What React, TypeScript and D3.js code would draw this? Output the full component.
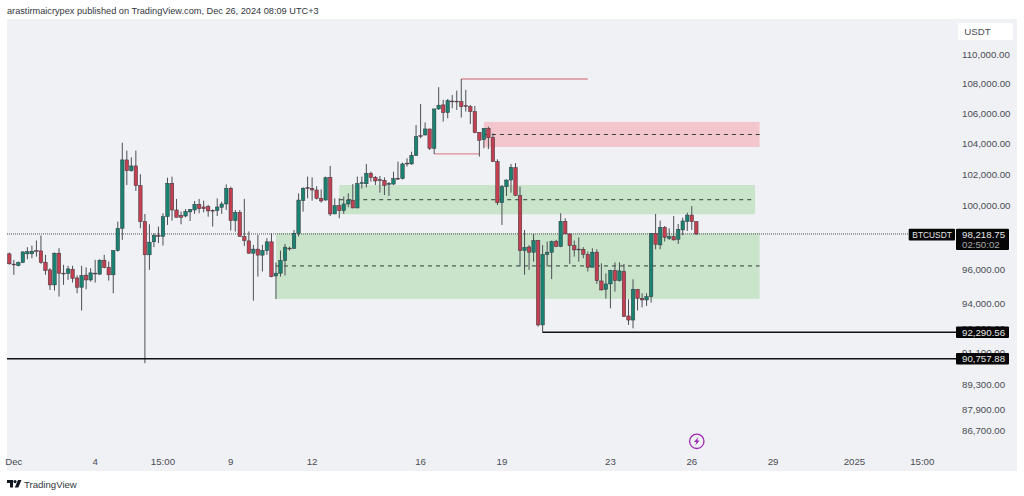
import { scaleLinear, scaleLog, format } from 'd3'

// OHLC per candle (4h)
const opens = [
  96990,96360,96280,96460,96990,96990,97190,97170,96480,96010,
  95100,97030,95810,95800,96050,95520,94960,95690,95400,95810,
  95750,96600,96170,95710,97190,98570,102930,102230,102540,101270,
  98990,96930,97730,98120,98060,99300,101420,99720,99380,99340,
  99600,99720,100080,99910,99930,99700,99680,99890,100100,101100,
  99050,99570,98060,97790,97030,97280,96910,97190,97730,95640,
  95810,96580,97340,97320,98260,100310,101140,101100,100990,100460,
  100350,101800,99470,99990,99680,100100,100330,99850,101410,101390,
  102060,101800,101650,101610,101350,101370,101740,101720,102720,102670,
  103230,104530,104570,104970,103690,106310,106580,106060,106840,106830,
  106800,106530,106460,106130,104750,104260,105010,104390,102820,100180,
  101200,101630,102430,100630,97190,97410,97090,97810,92720,96960,
  97090,97770,97440,99010,98220,97500,97280,97270,96960,96170,
  97090,95340,94840,95160,95970,95360,95910,93250,93010,94840,
  94300,94200,94400,98260,97540,98630,97950,98050,97890,98470,
  98990,99400,98990,
]
const closes = [
  96380,96340,96460,97110,97130,97150,97170,96460,95970,95100,
  97030,95810,95790,96070,95500,94960,95670,95400,95830,95790,
  96600,96150,95710,97190,98570,102930,102230,102540,101270,98990,
  96930,97710,98140,98100,99300,101420,99720,99260,99260,99620,
  99760,100080,99800,99800,99660,99680,99910,100100,101100,99050,
  99570,98060,97810,97030,97280,96910,97190,97730,95600,95810,
  96580,97400,97320,98260,100350,101100,101120,100990,100460,100290,
  101780,99470,99990,99680,100100,100350,99850,101410,101460,102060,
  101800,101570,101620,101290,101410,101720,101720,102670,102700,103230,
  104460,104510,104970,103690,106310,106560,106060,106870,106820,106810,
  106460,106500,106130,104730,104220,105010,104390,102820,100180,101200,
  101630,102450,100650,97190,97390,97090,97810,92720,96950,97090,
  97750,97440,99010,98220,97500,97230,97260,96960,96170,97090,
  95360,94800,95160,95970,95360,95950,93210,93010,94840,94300,
  94200,94400,98260,97580,98630,98010,98050,97850,98510,99030,
  99400,98990,98218.75,
]
const highs = [
  97070,96620,96520,97130,97400,97500,97810,98120,96930,96110,
  97070,97340,96320,96260,96260,95680,96260,96160,96110,96620,
  96660,96930,96520,97230,98990,104060,103540,103100,103540,102000,
  99470,98820,98260,98680,99510,101780,101850,100420,99620,99780,
  99760,100290,100420,100310,100040,99760,100460,100250,101350,101200,
  99720,99720,100420,98370,97540,98160,97540,97960,98270,96460,
  97190,97600,97440,98470,100770,101160,101850,101800,101230,101030,
  101850,102540,100460,100460,100570,100780,101370,101850,101850,102670,
  102170,101890,101890,101800,101500,102170,102820,102760,103040,103470,
  105230,106640,105410,104970,106310,107780,106920,106980,107250,107550,
  108340,107600,106580,106510,104750,105010,105120,104680,102970,101310,
  101670,102670,102720,101210,98470,97530,98220,97850,97530,97750,
  97810,97850,99510,99200,98260,97810,98010,97400,97130,97330,
  97270,96410,95800,96010,96470,96470,96370,94240,95440,94840,
  94600,94600,98260,99470,99050,98710,98570,99340,98840,99240,
  99550,99960,98990,
]
const lows = [
  96320,95710,96220,96420,96660,96720,96820,96380,95710,94800,
  94760,94400,95100,95400,95240,94600,93570,94840,95300,95240,
  95710,96110,95360,94600,97130,97850,101310,102170,100930,98570,
  90500,96010,97400,97650,97500,98780,99050,99260,98820,99260,
  99030,99470,99510,99570,99300,98680,99340,99470,99720,98430,
  98370,98060,97480,96990,94160,95600,95910,96930,95560,94260,
  95600,95670,97190,97300,98060,99620,100460,100310,100390,100180,
  100310,99340,99470,99200,99470,99890,99830,99830,101090,101160,
  101520,101310,100820,100670,100610,101310,101630,101670,102500,102610,
  103190,104350,104530,103580,103320,106240,105460,105680,106350,106240,
  105730,106130,105300,104680,103150,103690,103640,102820,100030,98780,
  100610,100820,100610,96210,95710,96010,96510,92620,92270,96210,
  95450,97400,97400,98220,96370,96820,96510,96720,95910,96170,
  95160,94760,94280,93700,94700,95300,93210,92720,92520,93570,
  93760,93840,94040,97270,97270,97750,97850,97810,97600,98140,
  98400,98470,98160,
]

const priceTicks = [110000,108000,106000,104000,102000,100000,96000,94000,92500,91100,89300,87900,86700]
const timeLabels = ['Dec','4','15:00','9','12','16','19','23','26','29','2025','15:00']
const timeIndexes = [1,19,34,49,67,91,109,133,151,169,187,202]

const lastPrice = 98218.75
const level1 = 92290.56
const level2 = 90757.88

// zones: [start candle, end candle, top, bottom, mid]
const redZone = [105, 166, 105440, 103780, 104600]
const upperGreenZone = [73, 165, 101310, 99450, 100370]
const lowerGreenZone = [59, 166, 98260, 94260, 96250]
// red lines: [start candle, end candle, price]
const redLines = [[100, 128, 108340], [94, 104, 103320]]
const levelStart = 118

const width = 1024
const height = 496
const pane = { left: 7, right: 1017, top: 19, bottom: 471 }

const font = '"Liberation Sans", Arimo, Helvetica, sans-serif'
const up = '#1a8270'
const down = '#c43f50'
const edge = '#33363f'
const ink = '#4a4d55'
const tick = format(',.2f')

function Zone({zone, fill, x, y}) {
  const [a, b, top, bottom, mid] = zone
  return(
    <g>
      <rect x={x(a)} y={y(top)} width={x(b) - x(a)} height={y(bottom) - y(top)} fill={fill} />
      <line x1={x(a)} x2={x(b)} y1={y(mid)} y2={y(mid)} stroke="#2f3a35" strokeWidth={1} strokeDasharray="4 4" />
    </g>
  )
}

function PriceTag({price, y, label}) {
  return(
    <g>
      <rect x={956} y={y(price) - 5.8} width={53} height={11.6} rx={1} fill="#050505" />
      <text x={962} y={y(price) + 3.4} fontSize={9.7} fill="#e6e6e6">{label}</text>
    </g>
  )
}

export default function App() {
  const x = scaleLinear().domain([0, 152]).range([9.3, 696.3])
  const y = scaleLog().domain([86700, 110000]).range([431, 55])
  const bodyW = 3.5

  return(
    <svg width={width} height={height} viewBox={`0 0 ${width} ${height}`}
      style={{position: 'fixed', left: 0, top: 0, background: '#fff'}} fontFamily={font}>
      <text x={7} y={14} fontSize={9.2} fill="#33363c">
        arastirmaicrypex published on TradingView.com, Dec 26, 2024 08:09 UTC+3
      </text>
      <rect x={pane.left} y={pane.top} width={pane.right - pane.left} height={pane.bottom - pane.top} fill="#f0f1f4" />

      <Zone zone={upperGreenZone} fill="#c9e4cb" x={x} y={y} />
      <Zone zone={lowerGreenZone} fill="#c9e4cb" x={x} y={y} />
      <Zone zone={redZone} fill="#f3c6cd" x={x} y={y} />
      {
        redLines.map(([a, b, p]) =>
          <line key={a} x1={x(a)} x2={x(b)} y1={y(p)} y2={y(p)} stroke="#dd8f9a" strokeWidth={1.3} />)
      }

      <line x1={pane.left} x2={908} y1={y(lastPrice)} y2={y(lastPrice)} stroke="#555" strokeWidth={1} strokeDasharray="1 1" />

      <g>
        {
          opens.map((o, i) =>
            <line key={i} x1={x(i)} x2={x(i)} y1={y(highs[i])} y2={y(lows[i])} stroke="#4c4f56" strokeWidth={1} />)
        }
        {
          opens.map((o, i) => {
            const top = y(Math.max(o, closes[i]))
            const bottom = y(Math.min(o, closes[i]))
            return(
              <rect key={i} x={x(i) - bodyW / 2} y={top} width={bodyW} height={Math.max(bottom - top, 0.8)}
                fill={closes[i] >= o ? up : down} stroke={edge} strokeWidth={0.5} />
            )
          })
        }
      </g>

      <line x1={x(levelStart)} x2={956} y1={y(level1)} y2={y(level1)} stroke="#111" strokeWidth={1.6} />
      <line x1={pane.left} x2={956} y1={y(level2)} y2={y(level2)} stroke="#111" strokeWidth={1.6} />

      <rect x={958} y={23} width={55} height={17} rx={2} fill="#fff" />
      <text x={964.3} y={35} fontSize={9.7} fill={ink}>USDT</text>
      {
        priceTicks.map(p =>
          <text key={p} x={962} y={y(p) + 3.4} fontSize={9.7} fill={ink}>{tick(p)}</text>)
      }

      <rect x={908.7} y={228.8} width={46.3} height={11.6} rx={1} fill="#050505" />
      <text x={912.3} y={238} fontSize={8.4} fill="#e6e6e6">BTCUSDT</text>
      <rect x={956} y={228.8} width={53} height={21.2} rx={1} fill="#050505" />
      <text x={962} y={238} fontSize={9.7} fill="#e6e6e6">{tick(lastPrice)}</text>
      <text x={962} y={247.5} fontSize={9.7} fill="#a8a8a8">02:50:02</text>
      <PriceTag price={level1} y={y} label={tick(level1)} />
      <PriceTag price={level2} y={y} label={tick(level2)} />

      {
        timeLabels.map((t, i) =>
          <text key={i} x={x(timeIndexes[i])} y={465} textAnchor="middle" fontSize={9.7} fill={ink}>{t}</text>)
      }

      <g transform={`translate(${x(151) + 5},441.3)`}>
        <circle r={7.2} fill="none" stroke="#9c27b0" strokeWidth={1.3} />
        <path d="M1.6 -4.2 L-2.8 0.7 L-0.4 0.7 L-1.6 4.2 L2.8 -0.7 L0.4 -0.7 Z" fill="#9c27b0" />
      </g>

      <g fill="#131722">
        <path d="M7 480 H13 V487.5 H10 V483 H7 Z" />
        <circle cx={15} cy={481.6} r={1.6} />
        <path d="M18 480 H21.5 L18.3 487.5 H14.8 Z" />
      </g>
      <text x={24} y={487.5} fontSize={9.6} fill="#33363c">TradingView</text>
    </svg>
  )
}
